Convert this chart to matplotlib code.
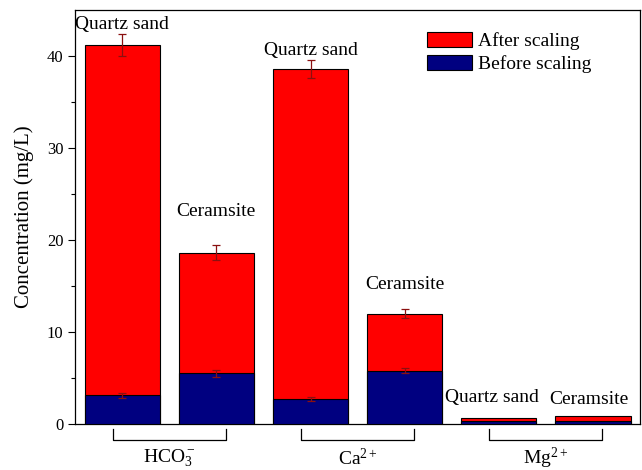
import matplotlib.pyplot as plt
import matplotlib.transforms as mtransforms
import numpy as np

plt.rcParams['font.family'] = ['Liberation Serif', 'DejaVu Serif']
plt.rcParams['mathtext.fontset'] = 'custom'
plt.rcParams['mathtext.rm'] = 'Liberation Serif'
plt.rcParams['mathtext.it'] = 'Liberation Serif:italic'

# данные с графика
ions = ['HCO$_3^-$', 'Ca$^{2+}$', 'Mg$^{2+}$']
media = ['Quartz sand', 'Ceramsite', 'Quartz sand', 'Ceramsite', 'Quartz sand', 'Ceramsite']
before = [3.1, 5.5, 2.7, 5.8, 0.3, 0.35]
before_err = [0.3, 0.35, 0.2, 0.3]
after = [41.2, 18.6, 38.6, 12.0, 0.6, 0.9]
after_err = [1.2, 0.8, 1.0, 0.5]
# положение подписей над столбцами
label_x = [0, 1, 2, 3, 3.93, 4.96]
label_y = [43.4, 23.1, 40.6, 15.2, 2.9, 2.7]

x = np.arange(len(before))
fig = plt.figure(figsize=(6.42, 4.70), dpi=100)
ax = fig.add_axes([0.117, 0.098, 0.880, 0.881])

ax.bar(x, after, width=0.8, color='#ff0000', edgecolor='black', linewidth=0.8,
       label='After scaling', zorder=2)
ax.bar(x, before, width=0.8, color='#000080', edgecolor='black', linewidth=0.8,
       label='Before scaling', zorder=3)
n = len(after_err)
ax.errorbar(x[:n], after[:n], yerr=after_err, fmt='none', ecolor='#8b1010',
            elinewidth=0.9, capsize=3, capthick=0.9, zorder=4)
ax.errorbar(x[:n], before[:n], yerr=before_err, fmt='none', ecolor='#8b1010',
            elinewidth=0.9, capsize=3, capthick=0.9, zorder=4)

for lx, name, ly in zip(label_x, media, label_y):
    ax.text(lx, ly, name, ha='center', va='center', fontsize=14)

ax.set_xlim(-0.5, 5.5)
ax.set_ylim(0, 45)
ax.set_xticks([])
ax.set_yticks([0, 10, 20, 30, 40])
ax.set_yticks([5, 15, 25, 35], minor=True)
ax.tick_params(axis='y', direction='out', length=5, width=0.8, labelsize=12)
ax.tick_params(axis='y', which='minor', direction='out', length=3, width=0.8)
ax.set_ylabel('Concentration (mg/L)', fontsize=15)
ax.yaxis.set_label_coords(-0.072, 0.5)
for s in ax.spines.values():
    s.set_linewidth(0.9)

# скобки групп под осью
trans = mtransforms.blended_transform_factory(ax.transData, ax.transAxes)
for i, ion in enumerate(ions):
    left = 2 * i - 0.1
    right = 2 * i + 1.1
    ax.plot([left, left, right, right], [-0.012, -0.039, -0.039, -0.012],
            color='black', linewidth=0.9, transform=trans, clip_on=False)
    ax.text(2 * i + 0.5, -0.084, ion, ha='center', va='center', fontsize=14,
            transform=trans)

ax.legend(loc='upper left', bbox_to_anchor=(0.623, 0.947), frameon=False,
          fontsize=14, handlelength=2.3, handleheight=0.82, labelspacing=0.25,
          handletextpad=0.3, borderpad=0, borderaxespad=0)

fig.savefig('out.png', dpi=100)
